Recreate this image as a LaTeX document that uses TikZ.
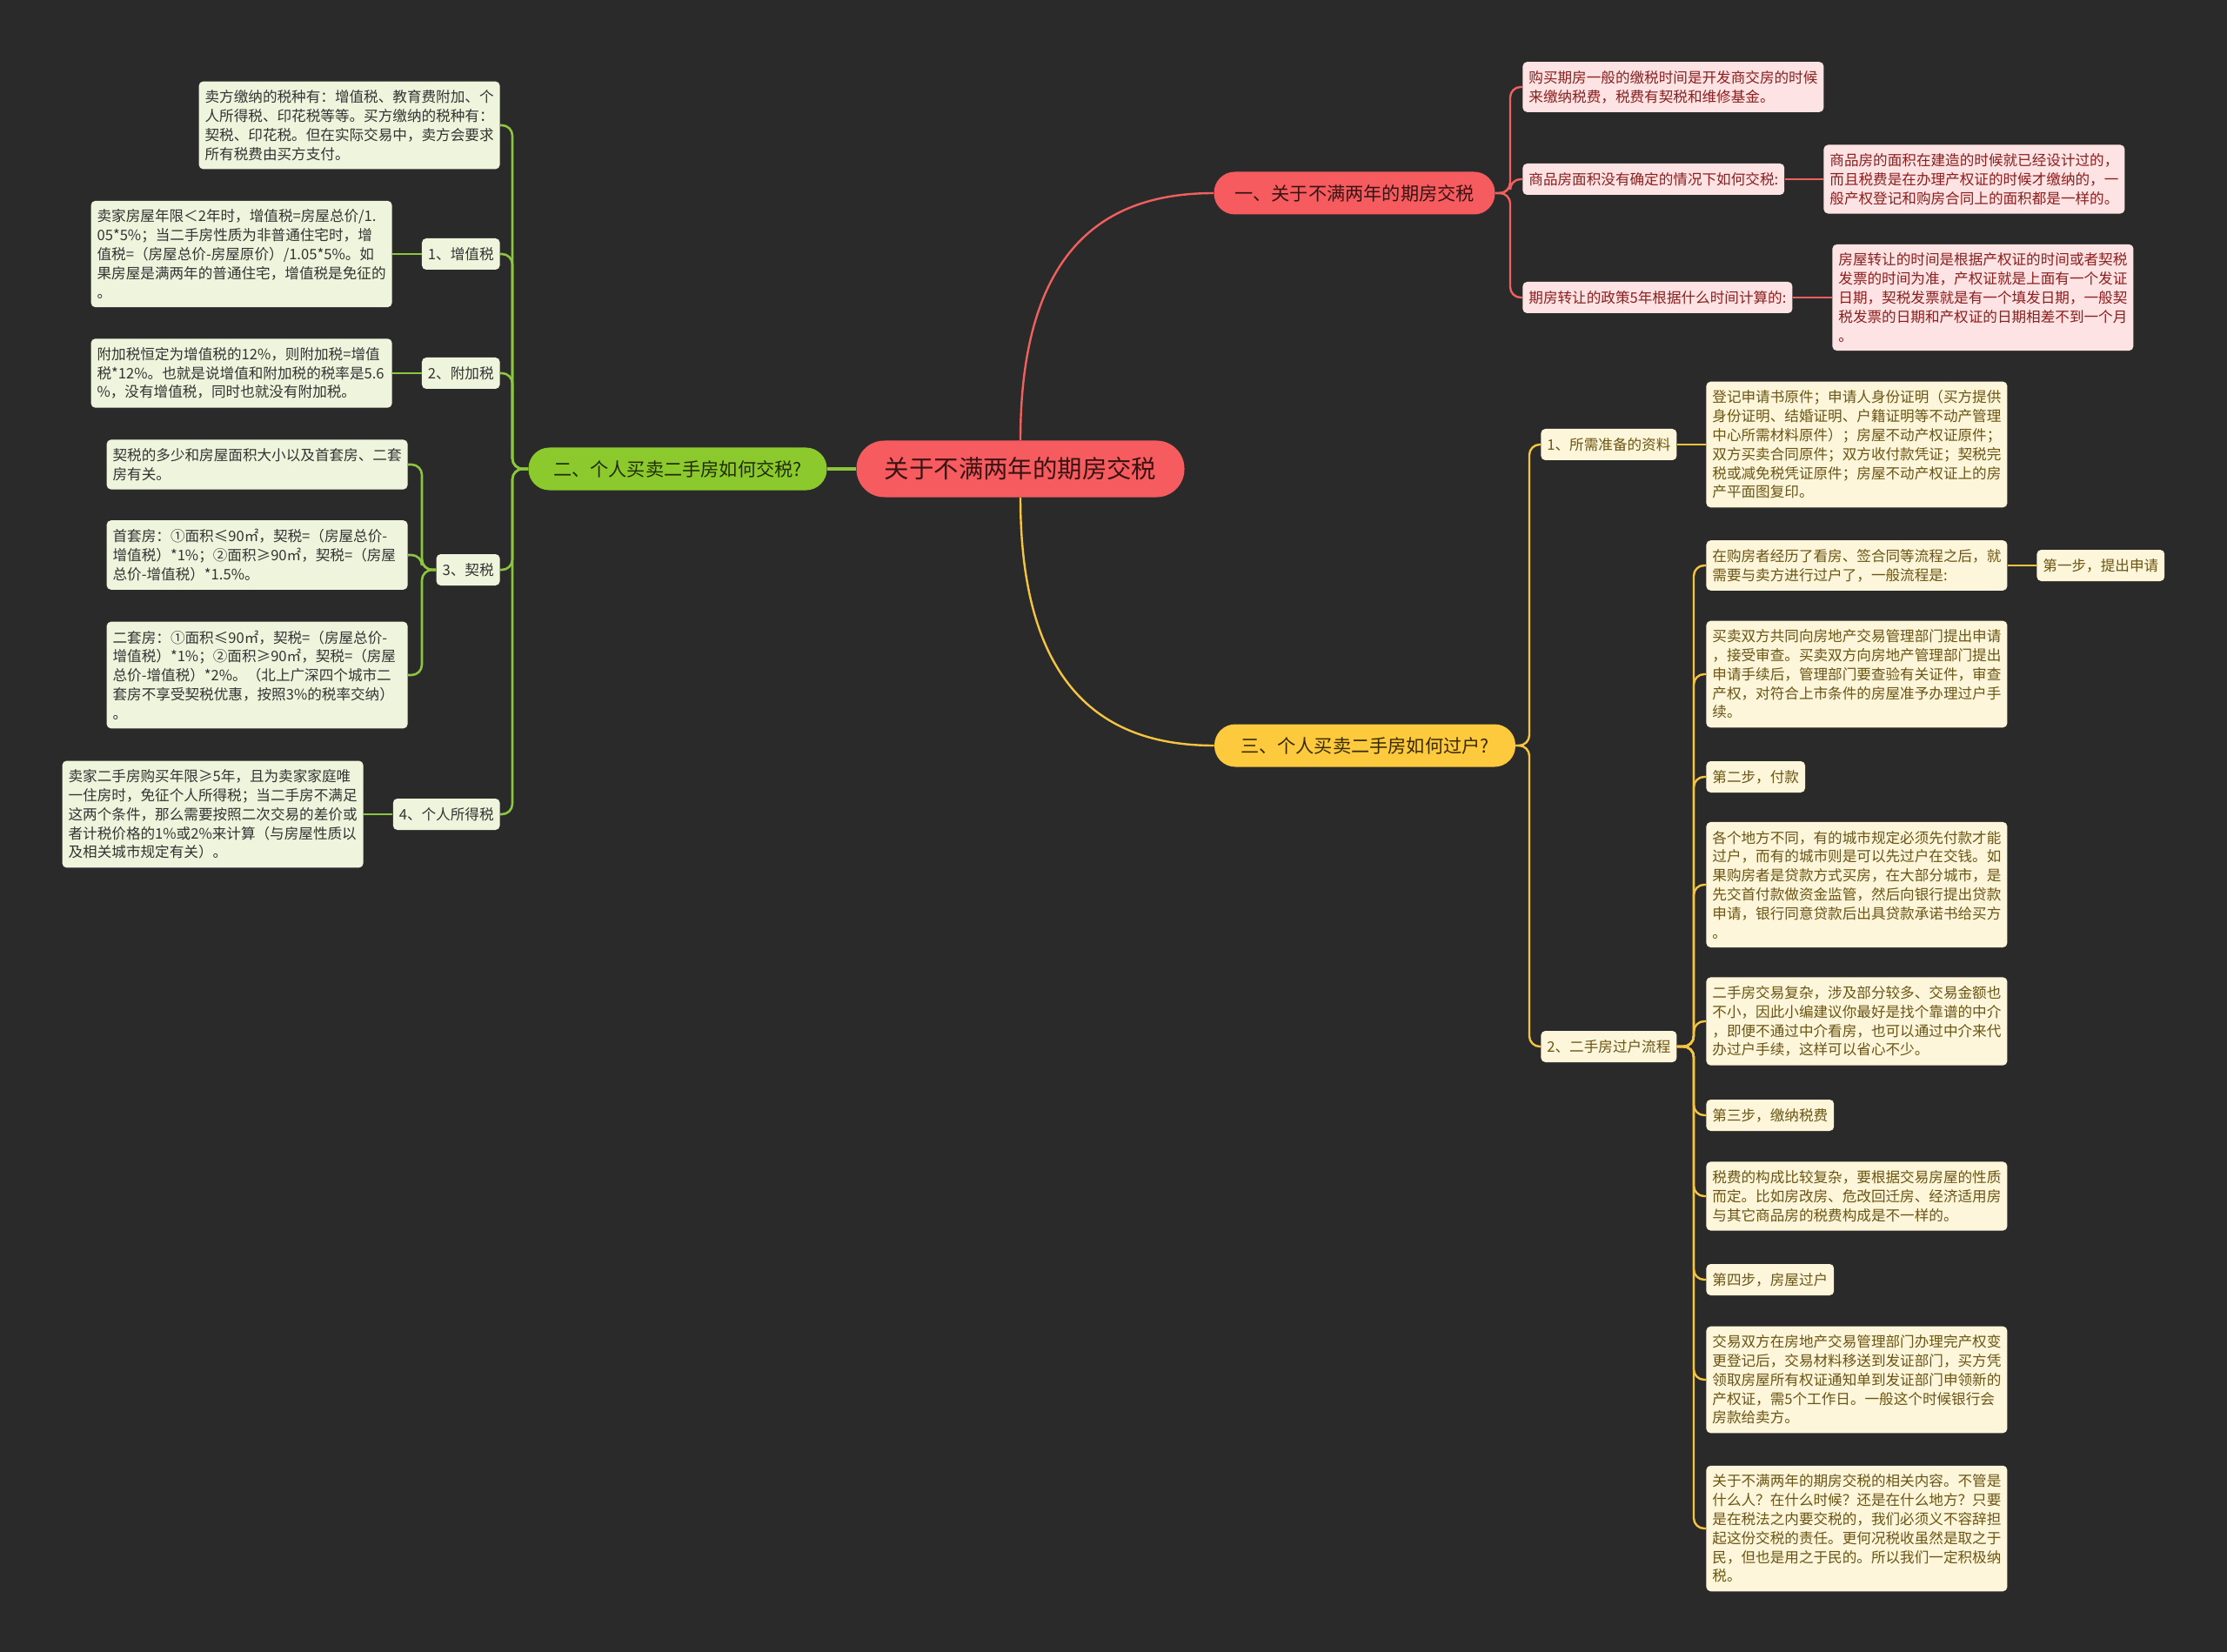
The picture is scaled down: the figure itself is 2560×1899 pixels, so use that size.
\documentclass[tikz,border=0pt]{standalone}
\usepackage{fontspec}
\setmainfont{Noto Sans CJK SC}
\usetikzlibrary{calc}
\definecolor{bgc}{HTML}{2A2A2A}
\definecolor{redmain}{HTML}{F65C5F}
\definecolor{redtxt}{HTML}{3A1212}
\definecolor{redln}{HTML}{F0605F}
\definecolor{pinkfill}{HTML}{FDE3E3}
\definecolor{pinktxt}{HTML}{8B1E1E}
\definecolor{grnmain}{HTML}{8CC92C}
\definecolor{grntxt}{HTML}{1F2E05}
\definecolor{grnln}{HTML}{8CC63F}
\definecolor{grnfill}{HTML}{EEF5DC}
\definecolor{grnboxtxt}{HTML}{333333}
\definecolor{ylwmain}{HTML}{FDCA3D}
\definecolor{ylwtxt}{HTML}{3A2A00}
\definecolor{ylwln}{HTML}{F5C542}
\definecolor{creamfill}{HTML}{FDF6DA}
\definecolor{creamtxt}{HTML}{6B5514}
\tikzset{
  smallbase/.style={font=\fontsize{8.3pt}{10.9pt}\selectfont, rounded corners=2.5pt, inner xsep=3.5pt, inner ysep=5pt},
  multi/.style={text width=166pt, align=left},
  single/.style={minimum height=18pt, inner ysep=2pt},
  pinkbox/.style={smallbase, fill=pinkfill, text=pinktxt},
  grnbox/.style={smallbase, fill=grnfill, text=grnboxtxt},
  creambox/.style={smallbase, fill=creamfill, text=creamtxt},
  mainbase/.style={font=\fontsize{10.6pt}{12pt}\selectfont, rounded corners=12pt, minimum height=24.5pt, inner xsep=10pt},
  redmainbox/.style={mainbase, fill=redmain, text=redtxt},
  grnmainbox/.style={mainbase, fill=grnmain, text=grntxt},
  ylwmainbox/.style={mainbase, fill=ylwmain, text=ylwtxt},
  rootbox/.style={font=\fontsize{14.2pt}{16pt}\selectfont, rounded corners=16pt, minimum height=32.5pt, minimum width=188.5pt, fill=redmain, text=redtxt},
  redline/.style={draw=redln, line width=1.2pt, rounded corners=6pt},
  grnline/.style={draw=grnln, line width=1.3pt, rounded corners=6pt},
  ylwline/.style={draw=ylwln, line width=1.2pt, rounded corners=6pt},
}
\begin{document}
\begin{tikzpicture}[x=0.5pt,y=-0.5pt]
\fill[bgc] (0,0) rectangle (2560,1899);
\useasboundingbox (0,0) rectangle (2560,1899);

% root and main branches
\node[rootbox] (root) at (1173,539) {关于不满两年的期房交税};
\node[redmainbox, minimum width=161.5pt] (b1) at (1557,222) {一、关于不满两年的期房交税};
\node[grnmainbox, minimum width=171.5pt] (b2) at (779,539) {二、个人买卖二手房如何交税?};
\node[ylwmainbox, minimum width=173pt] (b3) at (1569,857) {三、个人买卖二手房如何过户?};

% red children
\node[pinkbox, multi, anchor=west] (r1) at (1750,100) {购买期房一般的缴税时间是开发商交房的时候\\来缴纳税费，税费有契税和维修基金。};
\node[pinkbox, single, anchor=west] (r2) at (1750,206) {商品房面积没有确定的情况下如何交税:};
\node[pinkbox, multi, anchor=west] (r2a) at (2096,206) {商品房的面积在建造的时候就已经设计过的，\\而且税费是在办理产权证的时候才缴纳的，一\\般产权登记和购房合同上的面积都是一样的。};
\node[pinkbox, single, anchor=west] (r3) at (1750,342) {期房转让的政策5年根据什么时间计算的:};
\node[pinkbox, multi, anchor=west] (r3a) at (2106,342) {房屋转让的时间是根据产权证的时间或者契税\\发票的时间为准，产权证就是上面有一个发证\\日期，契税发票就是有一个填发日期，一般契\\税发票的日期和产权证的日期相差不到一个月\\。};

% green children
\node[grnbox, multi, anchor=east] (g0) at (575,144) {卖方缴纳的税种有：增值税、教育费附加、个\\人所得税、印花税等等。买方缴纳的税种有：\\契税、印花税。但在实际交易中，卖方会要求\\所有税费由买方支付。};
\node[grnbox, single, anchor=east] (g1) at (575,292) {1、增值税};
\node[grnbox, multi, anchor=east] (g1a) at (451,292) {卖家房屋年限＜2年时，增值税=房屋总价/1.\\05*5\%；当二手房性质为非普通住宅时，增\\值税=（房屋总价-房屋原价）/1.05*5\%。如\\果房屋是满两年的普通住宅，增值税是免征的\\。};
\node[grnbox, single, anchor=east] (g2) at (575,429) {2、附加税};
\node[grnbox, multi, anchor=east] (g2a) at (451,429) {附加税恒定为增值税的12\%，则附加税=增值\\税*12\%。也就是说增值和附加税的税率是5.6\\\%，没有增值税，同时也就没有附加税。};
\node[grnbox, single, anchor=east] (g3) at (575,655) {3、契税};
\node[grnbox, multi, anchor=east] (g3a) at (469,534) {契税的多少和房屋面积大小以及首套房、二套\\房有关。};
\node[grnbox, multi, anchor=east] (g3b) at (469,638) {首套房：①面积≤90㎡，契税=（房屋总价-\\增值税）*1\%；②面积≥90㎡，契税=（房屋\\总价-增值税）*1.5\%。};
\node[grnbox, multi, anchor=east] (g3c) at (469,776) {二套房：①面积≤90㎡，契税=（房屋总价-\\增值税）*1\%；②面积≥90㎡，契税=（房屋\\总价-增值税）*2\%。（北上广深四个城市二\\套房不享受契税优惠，按照3\%的税率交纳）\\。};
\node[grnbox, single, anchor=east] (g4) at (575,936) {4、个人所得税};
\node[grnbox, multi, anchor=east] (g4a) at (418,936) {卖家二手房购买年限≥5年，且为卖家家庭唯\\一住房时，免征个人所得税；当二手房不满足\\这两个条件，那么需要按照二次交易的差价或\\者计税价格的1\%或2\%来计算（与房屋性质以\\及相关城市规定有关）。};

% yellow children
\node[creambox, single, anchor=west] (y1) at (1771,511) {1、所需准备的资料};
\node[creambox, multi, anchor=west] (y1a) at (1961,511) {登记申请书原件；申请人身份证明（买方提供\\身份证明、结婚证明、户籍证明等不动产管理\\中心所需材料原件）；房屋不动产权证原件；\\双方买卖合同原件；双方收付款凭证；契税完\\税或减免税凭证原件；房屋不动产权证上的房\\产平面图复印。};
\node[creambox, single, anchor=west] (y2) at (1771,1203) {2、二手房过户流程};
\node[creambox, multi, anchor=west] (y2a) at (1961,650) {在购房者经历了看房、签合同等流程之后，就\\需要与卖方进行过户了，一般流程是:};
\node[creambox, single, anchor=west] (y2a1) at (2341,650) {第一步，提出申请};
\node[creambox, multi, anchor=west] (y2b) at (1961,775) {买卖双方共同向房地产交易管理部门提出申请\\，接受审查。买卖双方向房地产管理部门提出\\申请手续后，管理部门要查验有关证件，审查\\产权，对符合上市条件的房屋准予办理过户手\\续。};
\node[creambox, single, anchor=west] (y2c) at (1961,893) {第二步，付款};
\node[creambox, multi, anchor=west] (y2d) at (1961,1017) {各个地方不同，有的城市规定必须先付款才能\\过户，而有的城市则是可以先过户在交钱。如\\果购房者是贷款方式买房，在大部分城市，是\\先交首付款做资金监管，然后向银行提出贷款\\申请，银行同意贷款后出具贷款承诺书给买方\\。};
\node[creambox, multi, anchor=west] (y2e) at (1961,1174) {二手房交易复杂，涉及部分较多、交易金额也\\不小，因此小编建议你最好是找个靠谱的中介\\，即便不通过中介看房，也可以通过中介来代\\办过户手续，这样可以省心不少。};
\node[creambox, single, anchor=west] (y2f) at (1961,1282) {第三步，缴纳税费};
\node[creambox, multi, anchor=west] (y2g) at (1961,1375) {税费的构成比较复杂，要根据交易房屋的性质\\而定。比如房改房、危改回迁房、经济适用房\\与其它商品房的税费构成是不一样的。};
\node[creambox, single, anchor=west] (y2h) at (1961,1471) {第四步，房屋过户};
\node[creambox, multi, anchor=west] (y2i) at (1961,1586) {交易双方在房地产交易管理部门办理完产权变\\更登记后，交易材料移送到发证部门，买方凭\\领取房屋所有权证通知单到发证部门申领新的\\产权证，需5个工作日。一般这个时候银行会\\房款给卖方。};
\node[creambox, multi, anchor=west] (y2j) at (1961,1757) {关于不满两年的期房交税的相关内容。不管是\\什么人？在什么时候？还是在什么地方？只要\\是在税法之内要交税的，我们必须义不容辞担\\起这份交税的责任。更何况税收虽然是取之于\\民，但也是用之于民的。所以我们一定积极纳\\税。};

% main connectors
\draw[draw=redln, line width=1.2pt] (root.north) .. controls ($(root.north)+(0,-230)$) and ($(b1.west)+(-116,0)$) .. (b1.west);
\draw[draw=ylwln, line width=1.2pt] (root.south) .. controls ($(root.south)+(0,230)$) and ($(b3.west)+(-116,0)$) .. (b3.west);
\draw[draw=grnln, line width=1.6pt] (root.west) -- (b2.east);

% red spine
\coordinate (rs) at (1736,222);
\foreach \c in {r1,r2,r3} { \draw[redline] (b1.east) -- (rs) |- (\c.west); }
\draw[redline] (r2.east) -- (r2a.west);
\draw[redline] (r3.east) -- (r3a.west);

% green spine
\coordinate (gs) at (589,539);
\foreach \c in {g0,g1,g2,g3,g4} { \draw[grnline] (b2.west) -- (gs) |- (\c.east); }
\draw[grnline] (g1a.east) -- (g1.west);
\draw[grnline] (g2a.east) -- (g2.west);
\draw[grnline] (g4a.east) -- (g4.west);
\coordinate (g3s) at (485,655);
\foreach \c in {g3a,g3b,g3c} { \draw[grnline] (g3.west) -- (g3s) |- (\c.east); }

% yellow spine
\coordinate (ys) at (1758,857);
\foreach \c in {y1,y2} { \draw[ylwline] (b3.east) -- (ys) |- (\c.west); }
\draw[ylwline] (y1.east) -- (y1a.west);
\coordinate (y2s) at (1947,1203);
\foreach \c in {y2a,y2b,y2c,y2d,y2e,y2f,y2g,y2h,y2i,y2j} { \draw[ylwline] (y2.east) -- (y2s) |- (\c.west); }
\draw[ylwline] (y2a.east) -- (y2a1.west);
\end{tikzpicture}
\end{document}
